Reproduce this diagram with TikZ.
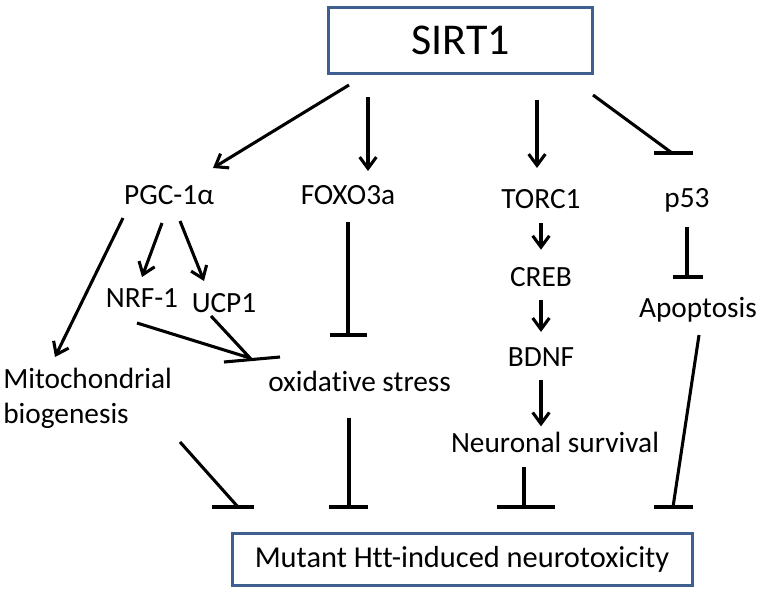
\documentclass[tikz,border=0pt]{standalone}
\usepackage{fontspec}
\setmainfont{Carlito}[Ligatures=CommonOff]
\usetikzlibrary{arrows.meta}
\definecolor{boxblue}{HTML}{3E5F8F}

\begin{document}
\begin{tikzpicture}[
            x = 0.75pt, y = -0.75pt, % one unit = one pixel of the sketch
            > = {Straight Barb[length=8.5pt,width=12.5pt]}, % open arrow head
            act/.style = {->, line width=2.3pt},
            inh/.style = {line width=2.3pt},
            lbl/.style = {font=\fontsize{22}{26.3}\selectfont, inner sep=0pt, anchor=base},
            box/.style = {draw=boxblue, line width=2.25pt, inner sep=0pt}
        ]
\useasboundingbox (0,0) rectangle (762,592);

\node[box, minimum width=198pt, minimum height=50pt, font=\fontsize{33}{40}\selectfont] (sirt) at (460.5,40.5) {SIRT1};
\node[box, minimum width=345pt, minimum height=39pt, font=\fontsize{22.8}{27}\selectfont] (htt) at (462,559) {Mutant Htt-induced neurotoxicity};

\node[lbl] (pgc) at (169,204) {PGC-1α};
\node[lbl] (foxo) at (348,204) {FOXO3a};
\node[lbl] (torc) at (541,208) {TORC1};
\node[lbl] (p53) at (687,207) {p53};
\node[lbl] (nrf) at (142,307) {NRF-1};
\node[lbl] (ucp) at (224,312) {UCP1};
\node[lbl] (creb) at (541,286) {CREB};
\node[lbl] (bdnf) at (541,366) {BDNF};
\node[lbl] (apop) at (698,317) {Apoptosis};
\node[lbl, anchor=north west, align=left] (mito) at (3,368) {Mitochondrial\\biogenesis};
\node[lbl, anchor=base west] (oxid) at (268,391) {oxidative stress};
\node[lbl] (neur) at (555,452) {Neuronal survival};

% line ends
\coordinate (sirt-a) at (349,85);  \coordinate (pgc-in) at (213,168);
\coordinate (sirt-b) at (368,97);  \coordinate (foxo-in) at (368,171);
\coordinate (sirt-c) at (537,100); \coordinate (torc-in) at (537,168);
\coordinate (sirt-d) at (593,95);  \coordinate (p53-bar) at (672,153);
\coordinate (pgc-a) at (123,218);  \coordinate (mito-in) at (55,357);
\coordinate (pgc-b) at (162,223);  \coordinate (nrf-in) at (142,277);
\coordinate (pgc-c) at (180,221);  \coordinate (ucp-in) at (204,281);
\coordinate (nrf-out) at (137,323); \coordinate (ucp-out) at (211,316);
\coordinate (oxid-bar1) at (250,358);
\coordinate (foxo-out) at (348,222); \coordinate (oxid-bar2) at (348,335);
\coordinate (apop-bar) at (688,277);
\coordinate (mito-out) at (180,442); \coordinate (htt-bar1) at (238,507);
\coordinate (oxid-out) at (349,418); \coordinate (htt-bar2) at (349,507);
\coordinate (neur-out) at (524,467); \coordinate (htt-bar3) at (524,507);
\coordinate (apop-out) at (699,335); \coordinate (htt-bar4) at (673,507);

% activation
\draw[act] (sirt-a) -- (pgc-in);
\draw[act] (sirt-b) -- (foxo-in);
\draw[act] (sirt-c) -- (torc-in);
\draw[act] (pgc-a) -- (mito-in);
\draw[act] (pgc-b) -- (nrf-in);
\draw[act] (pgc-c) -- (ucp-in);
\draw[act, shorten <=11.25pt, shorten >=12.75pt] (torc) -- (creb);
\draw[act, shorten <=10.5pt, shorten >=11.25pt] (creb) -- (bdnf);
\draw[act, shorten <=10.5pt, shorten >=3.75pt] (bdnf) -- (bdnf |- neur.north);

% inhibition
\draw[inh] (sirt-d) -- (p53-bar);
\draw[inh] (p53-bar) ++(-18,0) -- ++(39,0);
\draw[inh] (nrf-out) -- (oxid-bar1) -- (ucp-out);
\draw[inh] (oxid-bar1) ++(-26,4) -- ++(56,-5);
\draw[inh] (foxo-out) -- (oxid-bar2);
\draw[inh] (oxid-bar2) ++(-18,0) -- ++(37,0);
\draw[inh, shorten <=11.25pt] (p53) -- (p53 |- apop-bar);
\draw[inh] (apop-bar) ++(-15,0) -- ++(30,0);
\draw[inh] (mito-out) -- (htt-bar1);
\draw[inh] (htt-bar1) ++(-26,0) -- ++(42,0);
\draw[inh] (oxid-out) -- (htt-bar2);
\draw[inh] (htt-bar2) ++(-20,0) -- ++(39,0);
\draw[inh] (neur-out) -- (htt-bar3);
\draw[inh] (htt-bar3) ++(-27,0) -- ++(58,0);
\draw[inh] (apop-out) -- (htt-bar4);
\draw[inh] (htt-bar4) ++(-19,0) -- ++(39,0);
\end{tikzpicture}
\end{document}
